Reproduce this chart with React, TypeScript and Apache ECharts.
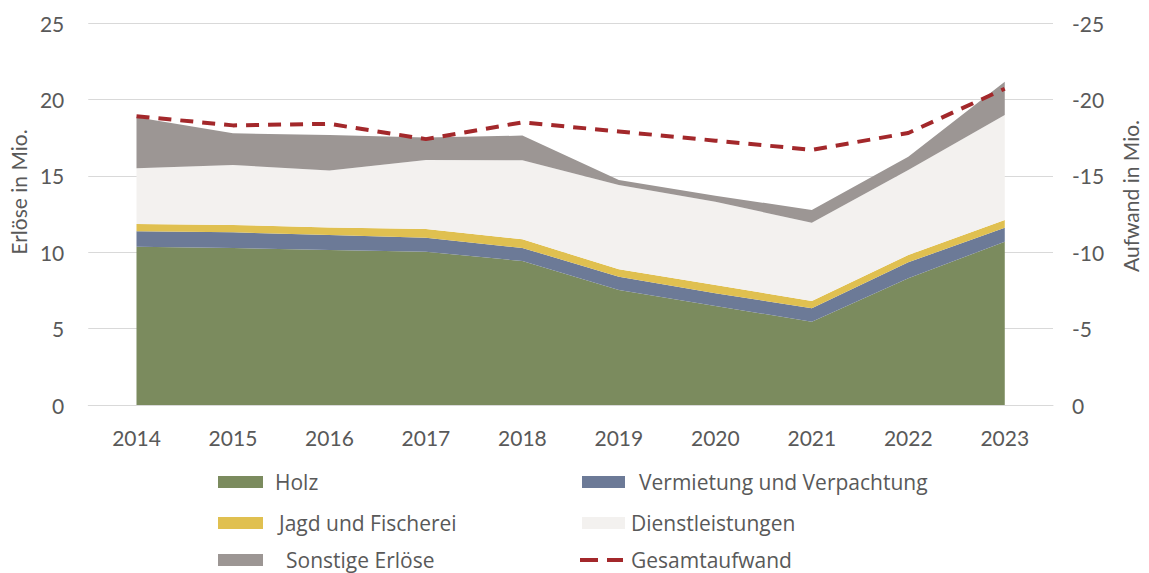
import React, { useEffect, useRef } from "react";
import * as echarts from "echarts";

const years = ["2014", "2015", "2016", "2017", "2018", "2019", "2020", "2021", "2022", "2023"];
const holz = [10.35, 10.28, 10.14, 10.03, 9.42, 7.53, 6.48, 5.45, 8.29, 10.69];
const vermietung = [1.02, 1.02, 0.98, 0.91, 0.86, 0.87, 0.83, 0.88, 1.05, 0.91];
const jagd = [0.48, 0.48, 0.49, 0.58, 0.56, 0.48, 0.54, 0.48, 0.48, 0.51];
const dienst = [3.64, 3.93, 3.73, 4.51, 5.17, 5.52, 5.45, 5.12, 5.56, 6.87];
const sonstige = [3.34, 2.07, 2.33, 1.47, 1.62, 0.33, 0.4, 0.83, 0.87, 2.18];
const gesamtaufwand = [-18.9, -18.3, -18.4, -17.4, -18.5, -17.9, -17.3, -16.7, -17.8, -20.7];

const FONT = "Lato";
const LEGEND_FONT = "Open Sans";
const TXT = "#595959";
const LEGEND_FS = 21;

function area(name: string, data: number[], color: string) {
  return {
    name,
    type: "line",
    stack: "erloese",
    data,
    color,
    itemStyle: { color },
    areaStyle: { color, opacity: 1 },
    lineStyle: { width: 0 },
    symbol: "none",
    showSymbol: false,
  };
}

function legendItem(
  name: string,
  left: number,
  center: number,
  pad: number,
  icon = "rect",
  w = 45,
  h = 12
) {
  return {
    orient: "vertical",
    left,
    top: center - LEGEND_FS / 2,
    itemWidth: w,
    itemHeight: h,
    padding: 0,
    textStyle: {
      color: TXT,
      fontSize: LEGEND_FS,
      fontFamily: LEGEND_FONT,
      padding: [0, 0, 0, pad],
    },
    data: [{ name, icon }],
  };
}

export default function App() {
  const ref = useRef<HTMLDivElement>(null);
  useEffect(() => {
    document.body.style.margin = "0";
    const chart = echarts.init(ref.current!, null, { renderer: "svg" });
    chart.setOption({
      animation: false,
      textStyle: { fontFamily: FONT },
      grid: { left: 87, right: 93, top: 23, bottom: 168 },
      xAxis: {
        type: "category",
        data: years,
        boundaryGap: true,
        axisLine: { lineStyle: { color: "#d9d9d9", width: 1 } },
        axisTick: { length: 8, lineStyle: { color: "#d9d9d9" } },
        axisLabel: { color: TXT, fontSize: 21, margin: 22, fontFamily: FONT },
      },
      yAxis: [
        {
          type: "value",
          min: 0,
          max: 25,
          interval: 5,
          name: "Erlöse in Mio.",
          nameLocation: "middle",
          nameGap: 56,
          nameTextStyle: { color: TXT, fontSize: 21, fontFamily: FONT, padding: [0, 0, 0, 44] },
          axisLine: { show: false },
          axisTick: { show: false },
          splitLine: { lineStyle: { color: "#d9d9d9" } },
          axisLabel: { color: TXT, fontSize: 21, margin: 24, fontFamily: FONT },
        },
        {
          type: "value",
          min: -25,
          max: 0,
          interval: 5,
          inverse: true,
          position: "right",
          name: "Aufwand in Mio.",
          nameLocation: "middle",
          nameGap: 67,
          nameTextStyle: { color: TXT, fontSize: 21, fontFamily: FONT, padding: [0, 0, 0, 36] },
          axisLine: { show: false },
          axisTick: { show: false },
          splitLine: { show: false },
          axisLabel: { color: TXT, fontSize: 21, margin: 19, fontFamily: FONT },
        },
      ],
      legend: [
        legendItem("Holz", 218, 482, 7),
        legendItem("Jagd und Fischerei", 218, 523, 11),
        legendItem("Sonstige Erlöse", 218, 560, 18),
        legendItem("Vermietung und Verpachtung", 582, 482, 9, "rect", 43, 12),
        legendItem("Dienstleistungen", 582, 523, 1, "rect", 43, 12),
        legendItem(
          "Gesamtaufwand",
          580,
          560,
          3,
          "path://M0,0h18v4h-18zM27,0h16v4h-16z",
          43,
          4
        ),
      ],
      series: [
        area("Holz", holz, "#7b8b5e"),
        area("Vermietung und Verpachtung", vermietung, "#6c7a97"),
        area("Jagd und Fischerei", jagd, "#e0c050"),
        area("Dienstleistungen", dienst, "#f3f1ef"),
        area("Sonstige Erlöse", sonstige, "#9c9694"),
        {
          name: "Gesamtaufwand",
          type: "line",
          yAxisIndex: 1,
          data: gesamtaufwand,
          color: "#a3282b",
          itemStyle: { color: "#a3282b" },
          symbol: "none",
          showSymbol: false,
          lineStyle: { color: "#a3282b", width: 4, type: [13, 9] },
          z: 5,
        },
      ],
    });
    return () => chart.dispose();
  }, []);
  return <div ref={ref} style={{ width: 1149, height: 573 }} />;
}
